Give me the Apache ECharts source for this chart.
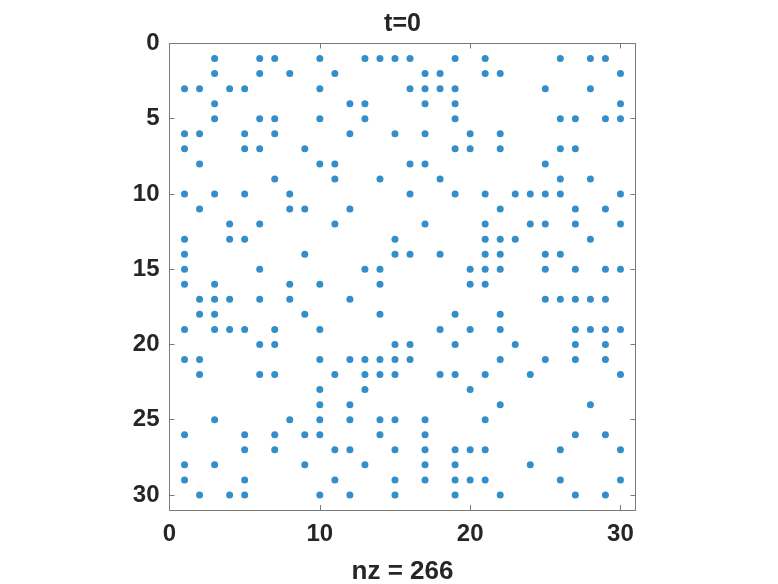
<!DOCTYPE html>
<html>
<head>
<meta charset="utf-8">
<script src="https://cdn.jsdelivr.net/npm/echarts@6/dist/echarts.min.js"></script>
<style>html,body{margin:0;padding:0;background:#fff}#c{width:778px;height:584px}</style>
</head>
<body>
<div id="c"></div>
<script>
// Column indices of nonzero entries, one list per matrix row (row 1..30)
const nonzeroCols = [
  [3,6,7,10,13,14,15,16,19,21,26,28,29],
  [3,6,8,11,17,18,21,22,30],
  [1,2,4,5,10,16,17,18,19,25,28],
  [3,12,13,17,19,30],
  [3,6,7,10,13,19,26,27,29,30],
  [1,2,5,7,12,15,17,20,22],
  [1,5,6,9,19,20,22,26,27],
  [2,10,11,16,17,25],
  [7,11,14,18,26,28],
  [1,3,5,8,16,19,21,23,24,25,26,30],
  [2,8,9,12,22,27,29],
  [4,6,11,17,21,24,25,27,30],
  [1,4,5,15,21,22,23,28],
  [1,9,15,16,18,21,22,25,26],
  [1,6,13,14,20,21,22,25,27,29,30],
  [1,3,8,10,14,20,21],
  [2,3,4,6,8,12,25,26,27,28,29],
  [2,3,9,14,19,22],
  [1,3,4,5,7,10,18,20,22,27,28,29,30],
  [6,7,15,16,19,23,27,29],
  [1,2,10,12,13,14,15,16,22,25,27,29],
  [2,6,7,11,13,14,15,18,19,21,24,30],
  [10,13,20],
  [10,12,22,28],
  [3,8,10,12,14,15,17,21],
  [1,5,7,9,10,14,17,27,29],
  [5,7,11,12,15,17,19,20,21,26,30],
  [1,3,9,13,17,19,24],
  [1,5,11,15,17,19,20,21,26,30],
  [2,4,5,10,12,15,19,22,27,29]
];
const xTicks = [0,10,20,30];
const yTicks = [0,5,10,15,20,25,30];
const titleText = 't=0';

const points = [];
nonzeroCols.forEach((cols, i) => cols.forEach(c => points.push([c, i + 1])));

const font = 'Liberation Sans';
const axisCol = '#7a7a7a';
const labelStyle = {color:'#262626', fontFamily:font, fontWeight:'bold', fontSize:24};
const titleStyle = {color:'#262626', fontFamily:font, fontWeight:'bold', fontSize:25};
const xlabelStyle = {color:'#262626', fontFamily:font, fontWeight:'bold', fontSize:26};

function xAx(pos, showLabel, name, gap, nameStyle) {
  return {
    type:'value', position:pos, min:0, max:31, interval:10,
    name:name, nameLocation:'middle', nameGap:gap,
    nameTextStyle:nameStyle,
    axisLine:{show:true, onZero:false, lineStyle:{color:axisCol, width:1}},
    axisTick:{show:true, inside:true, length:5, customValues:xTicks, lineStyle:{color:axisCol}},
    axisLabel:{show:showLabel, margin:12, customValues:xTicks, ...labelStyle},
    splitLine:{show:false}
  };
}
function yAx(pos, showLabel) {
  return {
    type:'value', position:pos, min:0, max:31, interval:5, inverse:true,
    axisLine:{show:true, onZero:false, lineStyle:{color:axisCol, width:1}},
    axisTick:{show:true, inside:true, length:5, customValues:yTicks, lineStyle:{color:axisCol}},
    axisLabel:{show:showLabel, margin:10, customValues:yTicks, ...labelStyle},
    splitLine:{show:false}
  };
}

const chart = echarts.init(document.getElementById('c'), null, {renderer:'canvas'});
chart.setOption({
  animation:false,
  backgroundColor:'#ffffff',
  grid:{left:169.5, top:43.5, width:466, height:466.5, containLabel:false, outerBoundsMode:'none'},
  xAxis:[xAx('bottom', true, 'nz = ' + points.length, 49, xlabelStyle), xAx('top', false, titleText, 7, titleStyle)],
  yAxis:[yAx('left', true), yAx('right', false)],
  series:[{
    type:'scatter', xAxisIndex:0, yAxisIndex:0,
    data:points, symbol:'circle', symbolSize:7,
    itemStyle:{color:'#0072BD'}
  }]
});
</script>
</body>
</html>
